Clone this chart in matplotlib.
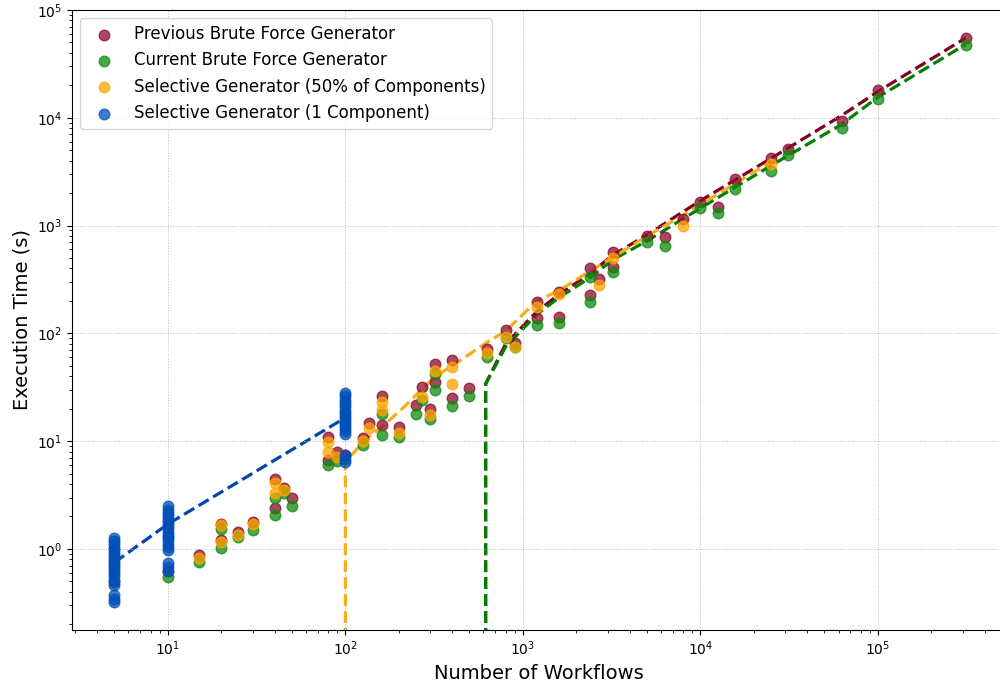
import matplotlib
matplotlib.use("Agg")
import matplotlib.pyplot as plt

# Previous Brute Force Generator
prev_x = [10, 15, 20, 20, 25, 30, 40, 40, 45, 50, 80, 80, 90, 100, 125, 135, 160, 160, 200,
          250, 270, 300, 320, 320, 400, 400, 500, 625, 800, 900, 1200, 1200, 1600, 1600,
          2400, 2400, 2700, 3200, 3200, 5000, 6300, 8000, 10000, 12500, 15625, 25000,
          31250, 62500, 100000, 312500]
prev_y = [0.62, 0.88, 1.7, 1.2, 1.44, 1.78, 4.5, 2.4, 3.7, 3.0, 10.9, 6.7, 7.9, 7.5, 10.6, 14.6,
          26, 14, 13.5, 21.5, 31.6, 19.8, 52, 35, 56, 25, 31, 72, 107, 81, 194, 140, 240, 143,
          400, 225, 322, 563, 410, 805, 780, 1160, 1640, 1475, 2700, 4230, 5100, 9400,
          18000, 55000]

# Current Brute Force Generator
curr_x = [10, 15, 20, 20, 25, 30, 40, 40, 45, 50, 80, 90, 125, 160, 160, 200, 250, 270, 300,
          320, 320, 400, 500, 625, 800, 900, 1200, 1600, 2400, 2400, 3200, 5000, 6300, 10000,
          12500, 15625, 25000, 31250, 62500, 100000, 312500]
curr_y = [0.55, 0.76, 1.53, 1.02, 1.29, 1.5, 3.0, 2.05, 3.3, 2.5, 6.0, 6.6, 9.2, 18, 11.4, 11,
          18, 24, 16, 30, 42, 21, 26, 60, 90, 75, 119, 126, 194, 330, 370, 710, 650, 1440,
          1300, 2180, 3200, 4500, 8100, 15000, 47000]

# Selective Generator (50% of Components)
half_x = [15, 20, 20, 25, 30, 40, 40, 45, 80, 80, 90, 125, 135, 160, 160, 200, 270, 300, 320,
          400, 400, 625, 800, 900, 1200, 1600, 2700, 3200, 8000, 25000]
half_y = [0.82, 1.65, 1.15, 1.35, 1.7, 4.1, 3.3, 3.5, 9.8, 7.9, 7.1, 10, 13.2, 23, 19.4, 12,
          25.7, 17.4, 45, 48.5, 34, 66, 92, 74, 174, 230, 278, 495, 1000, 3700]

# Selective Generator (1 Component)
one_x = [5] * 20 + [10] * 18 + [100] * 17
one_y = [1.25, 1.18, 1.1, 1.03, 0.97, 0.91, 0.86, 0.81, 0.76, 0.72, 0.68, 0.64, 0.6, 0.56,
         0.52, 0.49, 0.46, 0.37, 0.34, 0.32,
         2.5, 2.3, 2.15, 2.0, 1.88, 1.76, 1.65, 1.55, 1.45, 1.36, 1.28, 1.2, 1.12, 1.05,
         0.98, 0.74, 0.68, 0.63,
         28, 26, 24, 22.5, 21, 19.5, 18.2, 17, 16, 15, 14, 13.2, 12.4, 11.6, 7.4, 6.9, 6.4]

# trend lines
prev_line_x = [617, 617, 800, 1200, 1600, 2400, 3200, 5000, 10000, 25000, 62500, 100000, 312500]
prev_line_y = [0.1, 34, 80, 160, 230, 360, 530, 820, 1700, 4200, 10500, 17500, 55000]
curr_line_x = [617, 617, 800, 1200, 1600, 2400, 3200, 5000, 10000, 25000, 62500, 100000, 312500]
curr_line_y = [0.1, 34, 75, 150, 215, 330, 480, 720, 1450, 3600, 8700, 15500, 48000]
half_line_x = [100, 100, 135, 160, 205, 316, 400, 625, 800, 1200, 1600, 2400, 3200, 5000, 8000, 25000]
half_line_y = [0.1, 6.5, 10.9, 13.5, 19.4, 39, 50, 82, 105, 200, 250, 380, 505, 800, 1250, 3900]
one_line_x = [5, 10, 100]
one_line_y = [0.75, 1.7, 16.5]

fig = plt.figure(figsize=(10, 6.88), dpi=100)
ax = fig.add_axes([0.072, 0.0843, 0.933, 0.9012])

ax.plot(prev_line_x, prev_line_y, '--', color='#800020', lw=2.3, zorder=1)
ax.plot(curr_line_x, curr_line_y, '--', color='green', lw=2.3, zorder=1)
ax.plot(half_line_x, half_line_y, '--', color='#f5ad1e', lw=2.3, zorder=1)
ax.plot(one_line_x, one_line_y, '--', color='#0047ab', lw=2.3, zorder=1)

ax.scatter(prev_x, prev_y, s=58, color='#8e0a2e', alpha=0.75, label='Previous Brute Force Generator', zorder=2)
ax.scatter(curr_x, curr_y, s=58, color='#0f8a0f', alpha=0.75, label='Current Brute Force Generator', zorder=2)
ax.scatter(half_x, half_y, s=58, color='orange', alpha=0.75, label='Selective Generator (50% of Components)', zorder=2)
ax.scatter(one_x, one_y, s=58, color='#0050b8', alpha=0.75, label='Selective Generator (1 Component)', zorder=2)

ax.set_xscale('log')
ax.set_yscale('log')
ax.set_xlim(10**0.46, 10**5.716)
ax.set_ylim(0.177, 1e5)
ax.grid(True, which='major', linestyle=':', linewidth=0.7, color='#bbbbbb')
ax.set_xlabel('Number of Workflows', fontsize=14)
ax.set_ylabel('Execution Time (s)', fontsize=14)
ax.legend(loc='upper left', fontsize=12)

fig.savefig('out.png', dpi=100)
